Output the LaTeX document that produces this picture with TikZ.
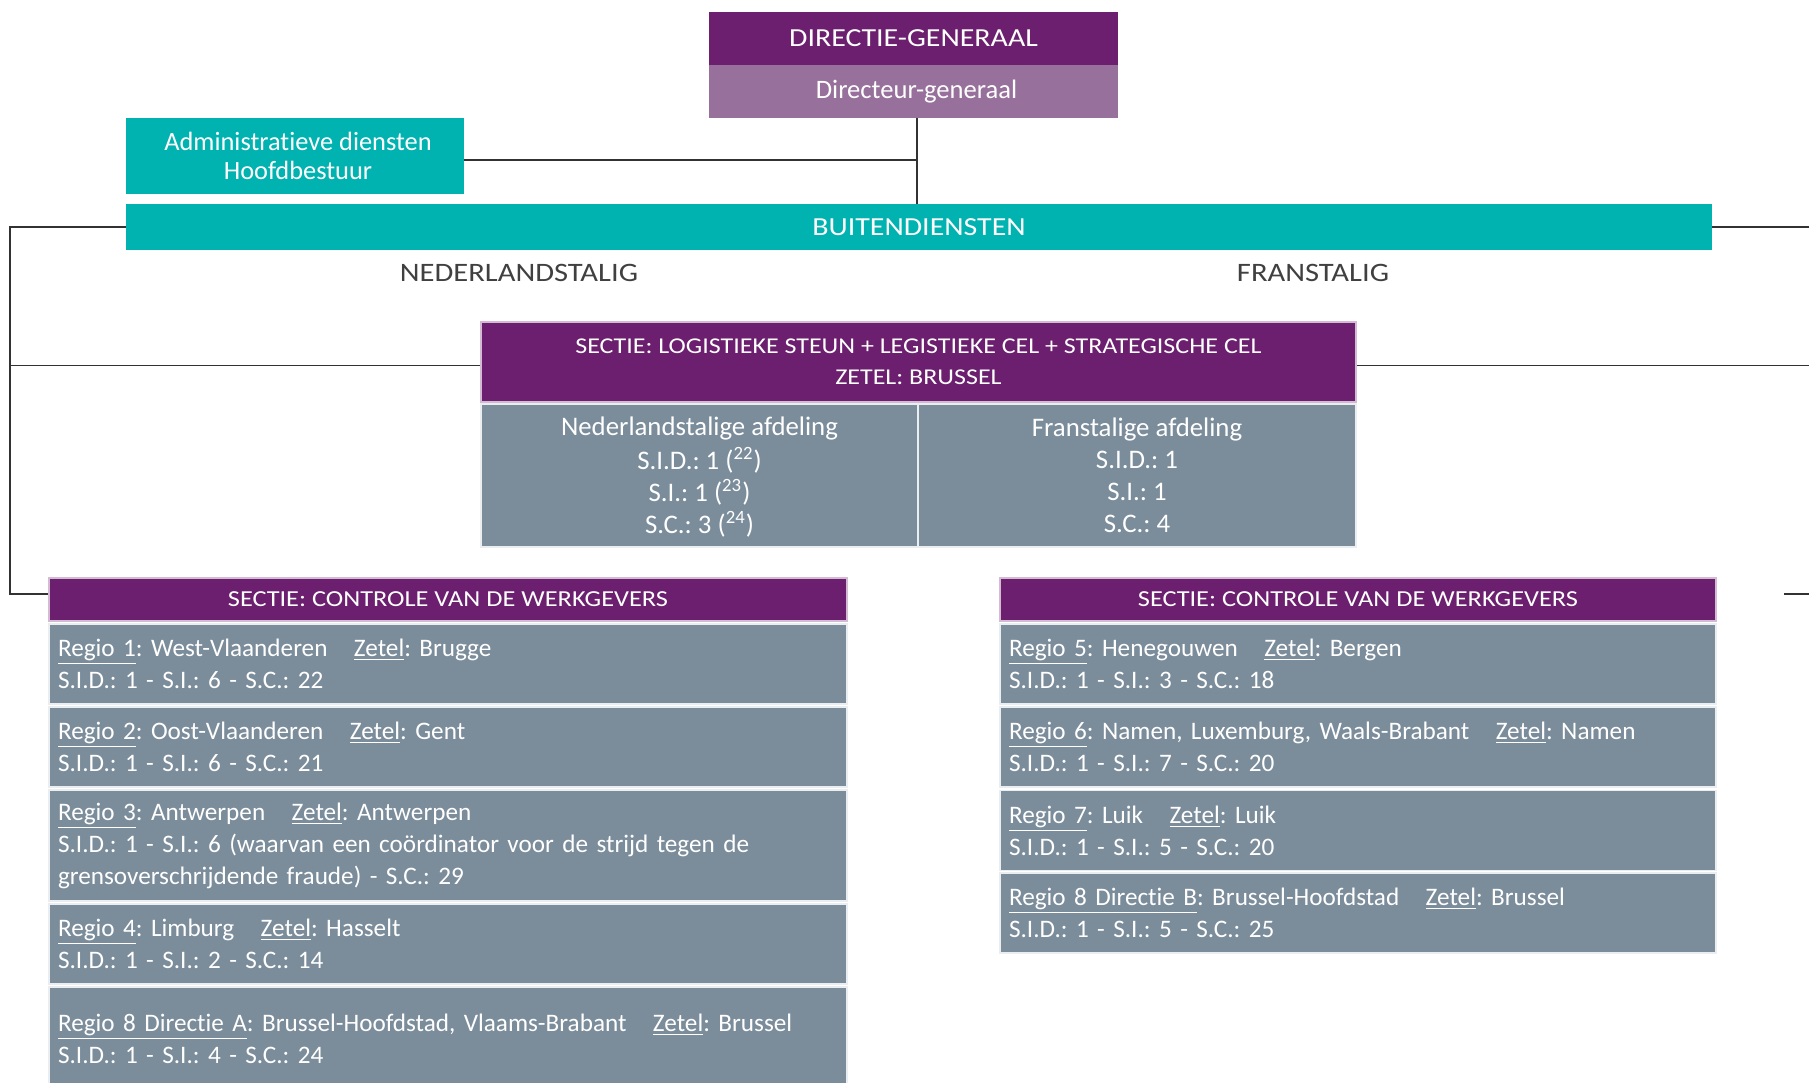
\documentclass[tikz,border=0pt]{standalone}
\usepackage{fontspec}
\setmainfont{Carlito}[Ligatures=NoCommon]
\newfontfamily\capsfont{Carlito}[Ligatures=NoCommon,FakeStretch=1.15]
\definecolor{purp}{RGB}{107,31,110}
\definecolor{lpurp}{RGB}{151,112,155}
\definecolor{teal}{RGB}{0,178,176}
\definecolor{slate}{RGB}{123,140,155}
\definecolor{linec}{RGB}{50,50,50}
\definecolor{labc}{RGB}{64,64,64}
\newcommand{\zgap}{\hspace{1.05em}}
\begin{document}
\frenchspacing
\begin{tikzpicture}[x=0.5pt,y=-0.5pt,
  base/.style={rectangle, inner sep=0pt, text=white, align=center},
  hdr/.style={base, fill=purp, draw=purp!30!white, line width=0.6pt},
  sub/.style={base, fill=lpurp, font=\fontsize{13.3}{15}\selectfont},
  tealbox/.style={base, fill=teal},
  greybox/.style={base, fill=slate, draw=white!85!slate, line width=0.8pt},
  greytext/.style={text=white, align=center, inner sep=0pt, font=\fontsize{13.4}{16}\selectfont},
  rowbox/.style={base, fill=slate, draw=white!85!slate, line width=0.8pt, align=left, inner xsep=4.5pt, font=\fontsize{12.6}{16}\selectfont},
  lab/.style={text=labc, font=\capsfont\fontsize{13.3}{14}\selectfont},
  conn/.style={draw=linec, line width=0.9pt}
]
\useasboundingbox (0,0) rectangle (1809,1082);

% top
\node[hdr, draw=none, minimum width=204.5pt, minimum height=26.5pt, font=\capsfont\fontsize{13}{15}\selectfont] (dg) at (913.5,38.5) {DIRECTIE-GENERAAL};
\node[sub, minimum width=204.5pt, minimum height=26.5pt] (dgr) at (913.5,91.5) {\hspace{3pt}Directeur-generaal};
\node[tealbox, minimum width=169pt, minimum height=38pt, font=\fontsize{13.2}{14.5}\selectfont] (admin) at (295,156) {\hspace{3pt}Administratieve diensten\\\hspace{3pt}Hoofdbestuur};
\node[tealbox, minimum width=793pt, minimum height=23pt, font=\capsfont\fontsize{13}{14}\selectfont] (buiten) at (919,227) {BUITENDIENSTEN};
\node[lab] (nl) at (519,273) {NEDERLANDSTALIG};
\node[lab] (fr) at (1313,273) {FRANSTALIG};

% logistiek section
\node[hdr, minimum width=437.5pt, minimum height=40pt, font=\capsfont\fontsize{11.3}{15.5}\selectfont] (logH) at (918.5,362)
  {SECTIE: LOGISTIEKE STEUN + LEGISTIEKE CEL + STRATEGISCHE CEL\\ZETEL: BRUSSEL};
\node[greybox, minimum width=218.5pt, minimum height=71.5pt] (logL) at (699.5,475.5) {};
\node[greybox, minimum width=219pt, minimum height=71.5pt] (logR) at (1137,475.5) {};
\node[greytext] (logLt) at (699.5,478)
  {\strut Nederlandstalige afdeling\\S.I.D.: 1 (\textsuperscript{22})\\S.I.: 1 (\textsuperscript{23})\\S.C.: 3 (\textsuperscript{24})\strut};
\node[greytext] (logRt) at (1137,478)
  {\strut Franstalige afdeling\\S.I.D.: 1\\S.I.: 1\\S.C.: 4\strut};

% left controle section
\node[hdr, minimum width=399pt, minimum height=21.5pt, font=\capsfont\fontsize{11.45}{14}\selectfont] (ctrlL) at (448,599.5) {SECTIE: CONTROLE VAN DE WERKGEVERS};
\node[rowbox, text width=390pt, minimum height=40pt] (r1) at (448,664)
  {\underline{Regio 1}: West-Vlaanderen\zgap\underline{Zetel}: Brugge\\S.I.D.: 1 - S.I.: 6 - S.C.: 22};
\node[rowbox, text width=390pt, minimum height=40pt] (r2) at (448,747)
  {\underline{Regio 2}: Oost-Vlaanderen\zgap\underline{Zetel}: Gent\\S.I.D.: 1 - S.I.: 6 - S.C.: 21};
\node[rowbox, text width=390pt, minimum height=55.5pt] (r3) at (448,845.5)
  {\underline{Regio 3}: Antwerpen\zgap\underline{Zetel}: Antwerpen\\S.I.D.: 1 - S.I.: 6 (waarvan een coördinator voor de strijd tegen de\\grensoverschrijdende fraude) - S.C.: 29};
\node[rowbox, text width=390pt, minimum height=40pt] (r4) at (448,944)
  {\underline{Regio 4}: Limburg\zgap\underline{Zetel}: Hasselt\\S.I.D.: 1 - S.I.: 2 - S.C.: 14};
\node[rowbox, text width=390pt, minimum height=51.5pt] (r8a) at (448,1038.5)
  {\underline{Regio 8 Directie A}: Brussel-Hoofdstad, Vlaams-Brabant\zgap\underline{Zetel}: Brussel\\S.I.D.: 1 - S.I.: 4 - S.C.: 24};

% right controle section
\node[hdr, minimum width=358pt, minimum height=21.5pt, font=\capsfont\fontsize{11.45}{14}\selectfont] (ctrlR) at (1358,599.5) {SECTIE: CONTROLE VAN DE WERKGEVERS};
\node[rowbox, text width=349pt, minimum height=40pt] (r5) at (1358,664)
  {\underline{Regio 5}: Henegouwen\zgap\underline{Zetel}: Bergen\\S.I.D.: 1 - S.I.: 3 - S.C.: 18};
\node[rowbox, text width=349pt, minimum height=40pt] (r6) at (1358,747)
  {\underline{Regio 6}: Namen, Luxemburg, Waals-Brabant\zgap\underline{Zetel}: Namen\\S.I.D.: 1 - S.I.: 7 - S.C.: 20};
\node[rowbox, text width=349pt, minimum height=40pt] (r7) at (1358,830.5)
  {\underline{Regio 7}: Luik\zgap\underline{Zetel}: Luik\\S.I.D.: 1 - S.I.: 5 - S.C.: 20};
\node[rowbox, text width=349pt, minimum height=40pt] (r8b) at (1358,913)
  {\underline{Regio 8 Directie B}: Brussel-Hoofdstad\zgap\underline{Zetel}: Brussel\\S.I.D.: 1 - S.I.: 5 - S.C.: 25};

% connectors
\coordinate (V) at ([xshift=1.75pt]dg.south);
\draw[conn] (V |- dgr.south) -- (V |- buiten.north);
\draw[conn] ([yshift=-2pt]admin.east) -- ([yshift=-2pt]admin.east -| V);
\coordinate (L1) at (10,227);
\coordinate (L2) at (10,594);
\draw[conn] (buiten.west) -- (L1) -- (L2) -- (L2 -| ctrlL.west);
\draw[conn] (L1 |- logH.west) ++(0,3.5) -- ([yshift=-1.75pt]logH.west);
\coordinate (R) at (1809,0);
\draw[conn] (buiten.east) -- (buiten.east -| R);
\draw[conn] ([yshift=-1.75pt]logH.east) -- ([yshift=-1.75pt]logH.east -| R);
\coordinate (R2a) at (1784,594);
\coordinate (R2b) at (1809,594);
\draw[conn] (R2a) -- (R2b);
\end{tikzpicture}
\end{document}
